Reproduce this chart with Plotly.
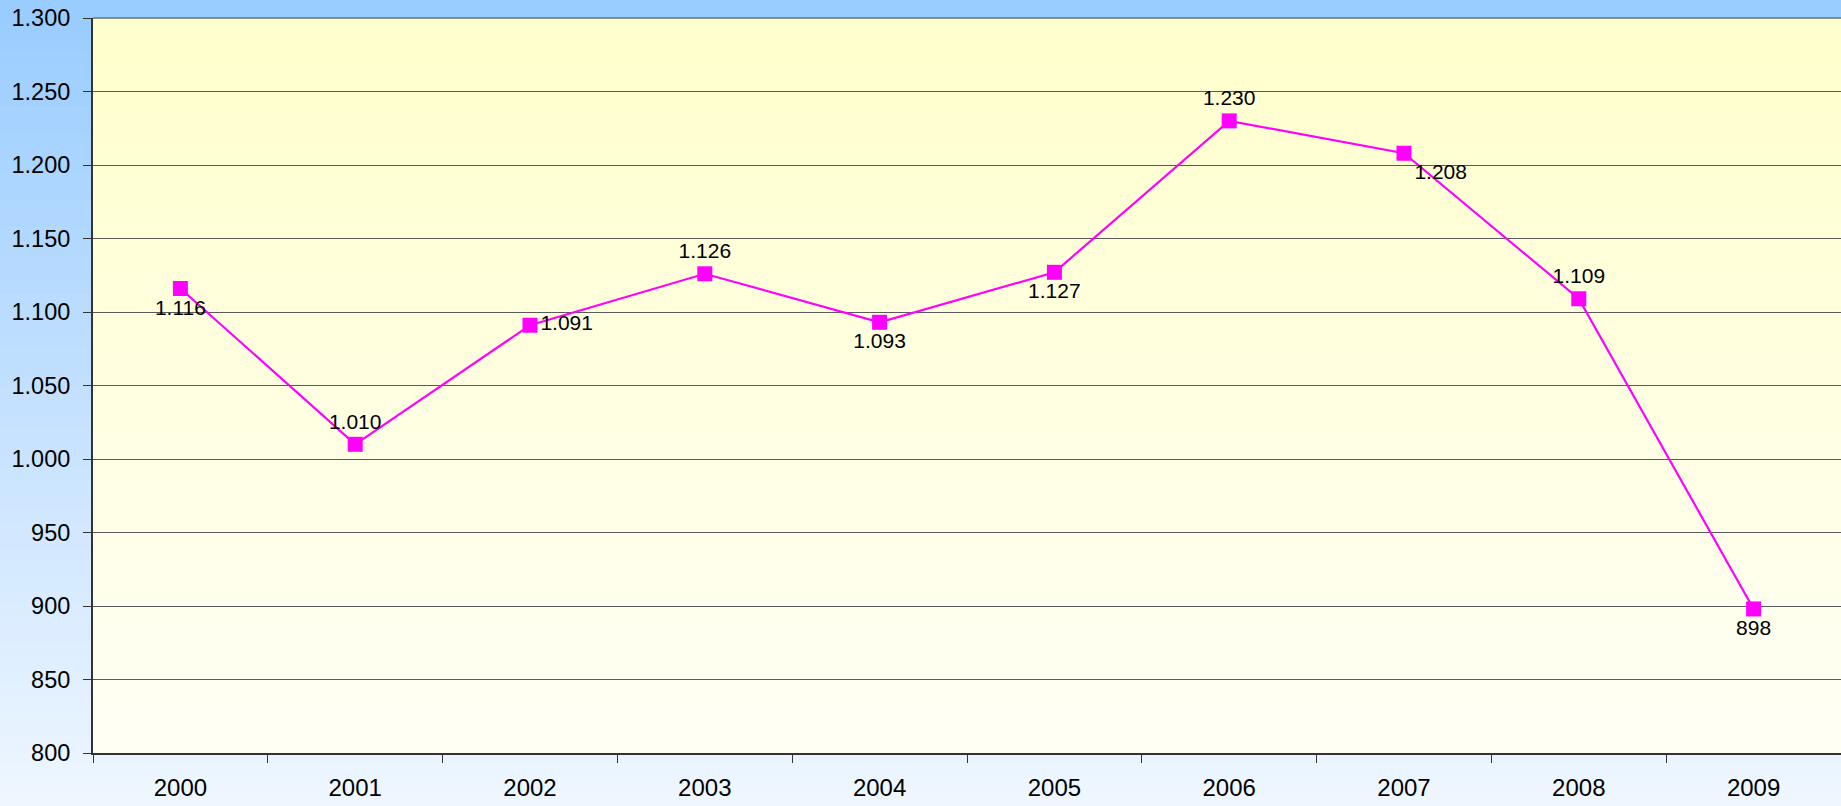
import plotly.graph_objects as go

years = ["2000", "2001", "2002", "2003", "2004", "2005", "2006", "2007", "2008", "2009"]
values = [1116, 1010, 1091, 1126, 1093, 1127, 1230, 1208, 1109, 898]
label_pos = ["bottom center", "top center", "middle right", "top center", "bottom center",
             "bottom center", "top center", "bottom right", "top center", "bottom center"]

W, H = 1841, 806
ML, MR, MT, MB = 93, 0, 18, 53
PW, PH = W - ML - MR, H - MT - MB


def lerp(c1, c2, t):
    return "rgb(%d,%d,%d)" % tuple(round(a + (b - a) * t) for a, b in zip(c1, c2))


shapes = []
N = 60
# page background gradient
x0p, x1p = -ML / PW, 1 + MR / PW
y0p, y1p = -MB / PH, 1 + MT / PH
top_c, bot_c = (0x99, 0xCC, 0xFF), (0xEE, 0xF6, 0xFF)
for i in range(N):
    ya = y1p - (y1p - y0p) * i / N
    yb = y1p - (y1p - y0p) * (i + 1) / N
    shapes.append(dict(type="rect", xref="paper", yref="paper", x0=x0p, x1=x1p, y0=yb, y1=ya + 0.002,
                       fillcolor=lerp(top_c, bot_c, i / (N - 1)), line=dict(width=0), layer="below"))
# plot area gradient
ptop, pbot = (0xFF, 0xFF, 0xCC), (0xFF, 0xFF, 0xF5)
for i in range(N):
    ya = 1 - i / N
    yb = 1 - (i + 1) / N
    shapes.append(dict(type="rect", xref="paper", yref="paper", x0=0, x1=1, y0=yb, y1=min(1, ya + 0.002),
                       fillcolor=lerp(ptop, pbot, i / (N - 1)), line=dict(width=0), layer="below"))
# top border
shapes.append(dict(type="line", xref="paper", yref="paper", x0=0, x1=1, y0=1, y1=1,
                   line=dict(color="#8a8a8a", width=2), layer="above"))

fig = go.Figure()
fig.add_trace(go.Scatter(
    x=years, y=values, mode="lines+markers+text",
    line=dict(color="#FF00FF", width=2.2),
    marker=dict(symbol="square", size=15, color="#FF00FF"),
    text=[f"{v:,}".replace(",", ".") for v in values],
    textposition=label_pos,
    textfont=dict(family="Liberation Sans, Arial", size=21, color="black"),
    cliponaxis=False,
    hoverinfo="x+y",
))

fig.update_layout(
    width=W, height=H,
    margin=dict(l=ML, r=MR, t=MT, b=MB, pad=0, autoexpand=False),
    paper_bgcolor="#EEF6FF",
    plot_bgcolor="rgba(0,0,0,0)",
    separators=",.",
    showlegend=False,
    shapes=shapes,
    font=dict(family="Liberation Sans, Arial", color="black"),
    xaxis=dict(
        type="category", tickson="boundaries", ticks="outside", ticklen=8, tickwidth=1,
        tickcolor="#333", showline=True, linecolor="#333", linewidth=2, automargin=False,
        showgrid=False, tickfont=dict(size=24), range=[-0.5, 9.5], fixedrange=True,
        ticklabelstandoff=12,
    ),
    yaxis=dict(
        range=[800, 1300], dtick=50, tick0=800, tickformat=",d", ticks="outside", ticklen=8,
        tickwidth=1, tickcolor="#333", showline=True, linecolor="#333", linewidth=2,
        showgrid=True, gridcolor="#5a5a5a", gridwidth=1, zeroline=False, automargin=False,
        tickfont=dict(size=23.5), ticklabelstandoff=8, fixedrange=True,
    ),
)

fig.write_html(
    "out.html",
    config={"displayModeBar": False},
    post_script="document.body.style.margin='0';document.body.style.overflow='hidden';"
                "document.documentElement.style.overflow='hidden';",
)
